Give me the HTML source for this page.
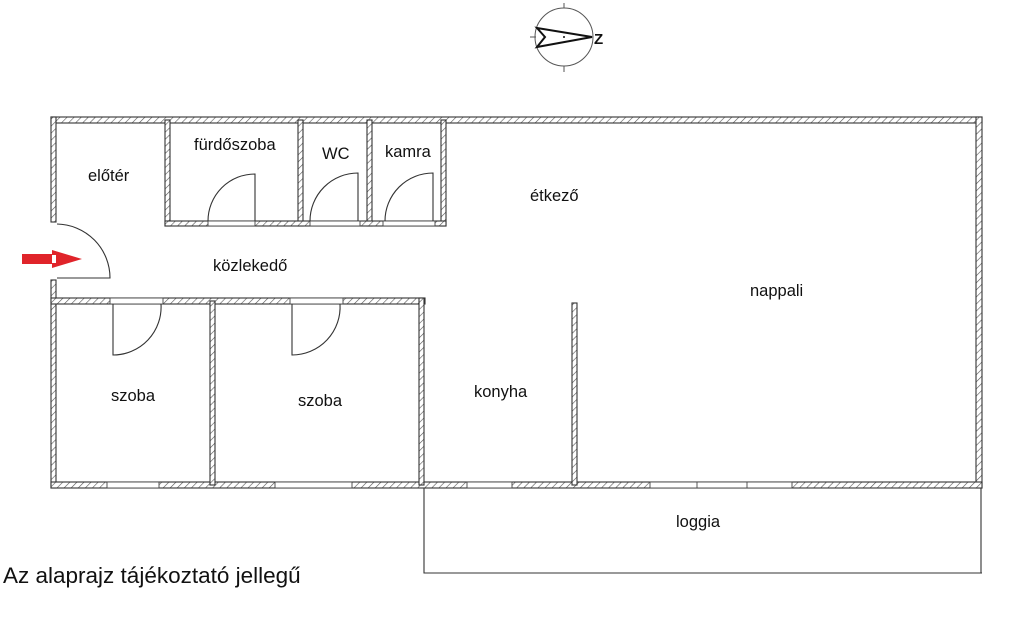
<!DOCTYPE html>
<html><head><meta charset="utf-8"><style>
html,body{margin:0;padding:0;background:#fff;}
svg{display:block}
text{font-family:"Liberation Sans",sans-serif;fill:#111;}
</style></head><body>
<svg width="1024" height="638" viewBox="0 0 1024 638" xmlns="http://www.w3.org/2000/svg">
<defs>
<pattern id="h" width="5" height="5" patternUnits="userSpaceOnUse" patternTransform="rotate(45)">
<rect width="5" height="5" fill="#fff"/>
<line x1="0" y1="0" x2="0" y2="5" stroke="#555" stroke-width="1.2"/>
</pattern>
</defs>
<g fill="url(#h)" stroke="#333" stroke-width="1.1">
<rect x="51" y="117" width="931" height="6"/>
<rect x="976" y="117" width="6" height="371"/>
<rect x="51" y="117" width="5" height="105"/>
<rect x="51" y="280" width="5" height="208"/>
<rect x="51" y="482" width="931" height="6"/>
<rect x="165" y="120" width="5" height="106"/>
<rect x="298" y="120" width="5" height="106"/>
<rect x="367" y="120" width="5" height="106"/>
<rect x="441" y="120" width="5" height="106"/>
<rect x="165" y="221" width="281" height="5"/>
<rect x="51" y="298" width="374" height="6"/>
<rect x="210" y="301" width="5" height="184"/>
<rect x="419" y="298" width="5" height="187"/>
<rect x="572" y="303" width="5" height="182"/>
</g>
<g fill="#fff" stroke="#444" stroke-width="0.9">
<rect x="208" y="221" width="47" height="5"/>
<rect x="310" y="221" width="50" height="5"/>
<rect x="383" y="221" width="52" height="5"/>
<rect x="110" y="298" width="53" height="6"/>
<rect x="290" y="298" width="53" height="6"/>
<rect x="107" y="482" width="52" height="6"/>
<rect x="275" y="482" width="77" height="6"/>
<rect x="467" y="482" width="45" height="6"/>
<rect x="650" y="482" width="142" height="6"/>
</g>
<g stroke="#444" stroke-width="0.9">
<line x1="697" y1="482" x2="697" y2="488"/><line x1="747" y1="482" x2="747" y2="488"/>
</g>
<g fill="none" stroke="#333" stroke-width="1.1">
<path d="M255 221 V174 A47 47 0 0 0 208 221"/>
<path d="M358 221 V173 A48 48 0 0 0 310 221"/>
<path d="M433 221 V173 A48 48 0 0 0 385 221"/>
<path d="M57 224 A54 54 0 0 1 110 278 H57"/>
<path d="M113 304 V355 A48 48 0 0 0 161 304"/>
<path d="M292 304 V355 A48 48 0 0 0 340 304"/>
<path d="M424 488 V573 H982 M981 488 V573"/>
</g>
<path d="M22 254 H52 V250 L82 259 L52 268 V264 H22 Z" fill="#e0242a"/>
<rect x="52" y="255" width="4" height="8" fill="#fff"/>
<g fill="none" stroke="#555" stroke-width="1">
<circle cx="564" cy="37" r="29"/>
<line x1="564" y1="3" x2="564" y2="8"/><line x1="564" y1="66" x2="564" y2="72"/>
<line x1="530" y1="37" x2="536" y2="37"/>
</g>
<path d="M537 28 L592 37 L537 47 L545 37 Z" fill="none" stroke="#111" stroke-width="2"/>
<circle cx="564" cy="37" r="1" fill="#111"/>
<text x="594" y="44" font-size="15" font-weight="bold">Z</text>
<g font-size="16.5">
<text x="88" y="181">előtér</text>
<text x="194" y="150">fürdőszoba</text>
<text x="322" y="159">WC</text>
<text x="385" y="157">kamra</text>
<text x="530" y="201">étkező</text>
<text x="213" y="271">közlekedő</text>
<text x="750" y="296">nappali</text>
<text x="111" y="401">szoba</text>
<text x="298" y="406">szoba</text>
<text x="474" y="397">konyha</text>
<text x="676" y="527">loggia</text>
</g>
<text x="3" y="583" font-size="22.5">Az alaprajz tájékoztató jellegű</text>
</svg>
</body></html>
